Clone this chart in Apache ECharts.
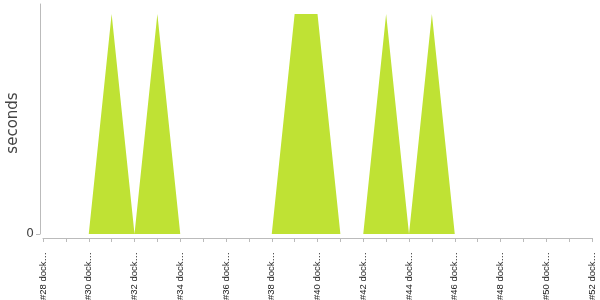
<!DOCTYPE html>
<html><head><meta charset="utf-8">
<script src="https://cdn.jsdelivr.net/npm/echarts@6/dist/echarts.min.js"></script>
<style>html,body{margin:0;padding:0;background:#fff}#c{width:600px;height:300px}</style>
</head><body><div id="c"></div>
<script>
const categories = ['#28 dock…','#29 dock…','#30 dock…','#31 dock…','#32 dock…','#33 dock…','#34 dock…','#35 dock…','#36 dock…','#37 dock…','#38 dock…','#39 dock…','#40 dock…','#41 dock…','#42 dock…','#43 dock…','#44 dock…','#45 dock…','#46 dock…','#47 dock…','#48 dock…','#49 dock…','#50 dock…','#51 dock…','#52 dock…'];
const seconds = [0,0,0,1,0,1,0,0,0,0,0,1,1,0,0,1,0,1,0,0,0,0,0,0,0];
const yTicks = [0];
const chart = echarts.init(document.getElementById('c'));
chart.setOption({
  animation:false,
  grid:{left:43,right:8,top:4,bottom:66,containLabel:false,outerBoundsMode:'none'},
  xAxis:{type:'category',data:categories,boundaryGap:false,offset:4,
    axisLine:{onZero:false,lineStyle:{color:'#bbb',width:1}},
    axisTick:{show:true,interval:0,length:4,lineStyle:{color:'#bbb'}},
    axisLabel:{interval:1,rotate:90,fontSize:9.5,color:'#222',fontFamily:'Liberation Sans',margin:14}},
  yAxis:{type:'value',min:0,max:1.045,offset:3,
    name:'seconds',nameLocation:'middle',nameGap:19,nameMoveOverlap:false,
    nameTextStyle:{fontSize:15,color:'#444',fontFamily:'DejaVu Sans',padding:[0,8,0,0]},
    splitLine:{show:false},
    axisLine:{show:true,lineStyle:{color:'#bbb'}},
    axisTick:{show:true,length:4,customValues:yTicks,lineStyle:{color:'#bbb'}},
    axisLabel:{customValues:yTicks,fontSize:12,color:'#444',margin:6,fontFamily:'DejaVu Sans'}},
  series:[{type:'line',data:seconds,symbol:'none',lineStyle:{width:0},
    areaStyle:{color:'#bfe234',opacity:1}}]
});
</script></body></html>
